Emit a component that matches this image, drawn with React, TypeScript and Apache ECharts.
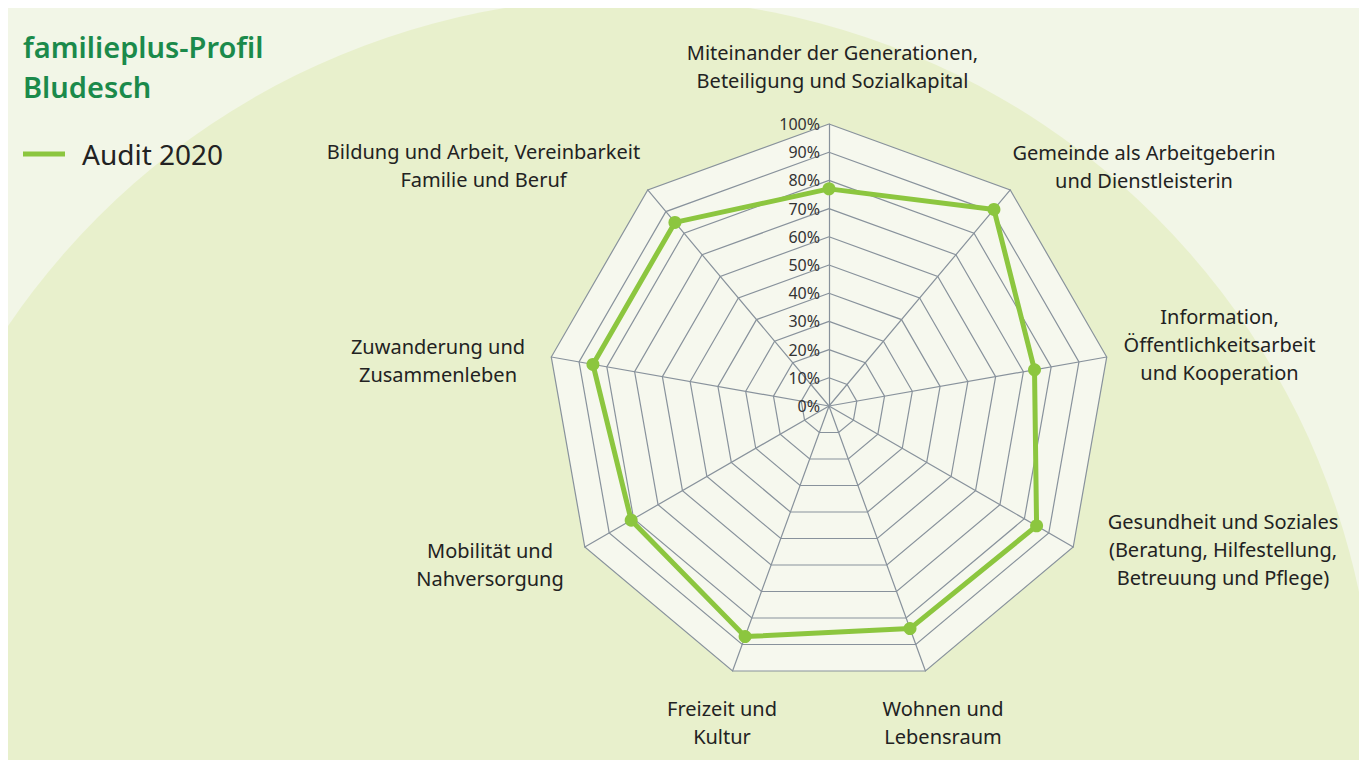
import React, { useEffect, useRef } from "react";
import * as echarts from "echarts";

// categories in clockwise order starting at the top
const categories = [
  "Miteinander der Generationen,\nBeteiligung und Sozialkapital",
  "Gemeinde als Arbeitgeberin\nund Dienstleisterin",
  "Information,\nÖffentlichkeitsarbeit\nund Kooperation",
  "Gesundheit und Soziales\n(Beratung, Hilfestellung,\nBetreuung und Pflege)",
  "Wohnen und\nLebensraum",
  "Freizeit und\nKultur",
  "Mobilität und\nNahversorgung",
  "Zuwanderung und\nZusammenleben",
  "Bildung und Arbeit, Vereinbarkeit\nFamilie und Beruf",
];
const audit2020 = [77, 91, 74, 85, 84, 87, 81, 85, 85];
const seriesName = "Audit 2020";
const titleLines = ["familieplus-Profil", "Bludesch"];
const axisMin = 0;
const axisMax = 100;
const tickCount = 10;

// layout only: centre of each category caption (chart coordinates)
const captionPos: [number, number][] = [
  [824.5, 58],
  [1136, 158],
  [1211.5, 336],
  [1215, 541],
  [935, 714],
  [714, 714],
  [482, 556],
  [430, 352],
  [475.5, 157],
];

const FONT = "'Noto Sans', 'Open Sans', sans-serif";
const GREEN = "#8cc63f";
const GRID = "#88929c";

// ECharts lays radar indicators out counter-clockwise; reorder to get clockwise
const order = categories.map((_, i) => (i === 0 ? 0 : categories.length - i));

export default function App() {
  const ref = useRef<HTMLDivElement>(null);
  useEffect(() => {
    if (!ref.current) return;
    const chart = echarts.init(ref.current, undefined, { renderer: "svg" });
    chart.setOption({
      animation: false,
      backgroundColor: "#f2f6e7",
      title: {
        text: titleLines.join("\n"),
        left: 15,
        top: 18,
        padding: 0,
        textStyle: {
          fontFamily: FONT,
          fontSize: 29,
          fontWeight: 600,
          lineHeight: 40,
          color: "#1b8a4b",
        },
      },
      legend: {
        left: 15,
        top: 132,
        padding: 0,
        icon: "rect",
        itemWidth: 42,
        itemHeight: 5,
        data: [seriesName],
        textStyle: {
          fontFamily: FONT,
          fontSize: 28,
          color: "#222",
          padding: [0, 0, 0, 12],
        },
      },
      graphic: [
        {
          type: "circle",
          z: -10,
          silent: true,
          shape: { cx: 619, cy: 738, r: 748 },
          style: { fill: "#e8f0cc" },
        },
        ...categories.map((name, i) => ({
          type: "text",
          z: 10,
          x: captionPos[i][0],
          y: captionPos[i][1],
          style: {
            text: name,
            fill: "#222",
            fontSize: 20,
            fontFamily: FONT,
            lineHeight: 28,
            align: "center",
            verticalAlign: "middle",
          },
        })),
      ],
      radar: {
        center: [821, 398],
        radius: 282,
        startAngle: 90,
        splitNumber: tickCount,
        shape: "polygon",
        indicator: order.map((k, j) =>
          j === 0
            ? { name: categories[k], min: axisMin, max: axisMax, axisLabel: { show: true } }
            : { name: categories[k], min: axisMin, max: axisMax }
        ),
        axisName: { show: false },
        axisLine: { lineStyle: { color: GRID, width: 1.2 } },
        splitLine: { lineStyle: { color: GRID, width: 1.2 } },
        splitArea: { areaStyle: { color: ["#f6f8ee"] } },
        axisTick: { show: false },
        axisLabel: {
          show: false,
          formatter: "{value}%",
          color: "#333",
          fontFamily: FONT,
          fontSize: 16,
          margin: 9,
        },
      },
      series: [
        {
          type: "radar",
          name: seriesName,
          symbol: "circle",
          symbolSize: 13,
          lineStyle: { color: GREEN, width: 5 },
          itemStyle: { color: GREEN },
          z: 5,
          data: [{ name: seriesName, value: order.map((k) => audit2020[k]) }],
        },
      ],
    });
    return () => chart.dispose();
  }, []);
  return (
    <div
      ref={ref}
      style={{ position: "absolute", left: 8, top: 8, width: 1351, height: 752 }}
    />
  );
}
